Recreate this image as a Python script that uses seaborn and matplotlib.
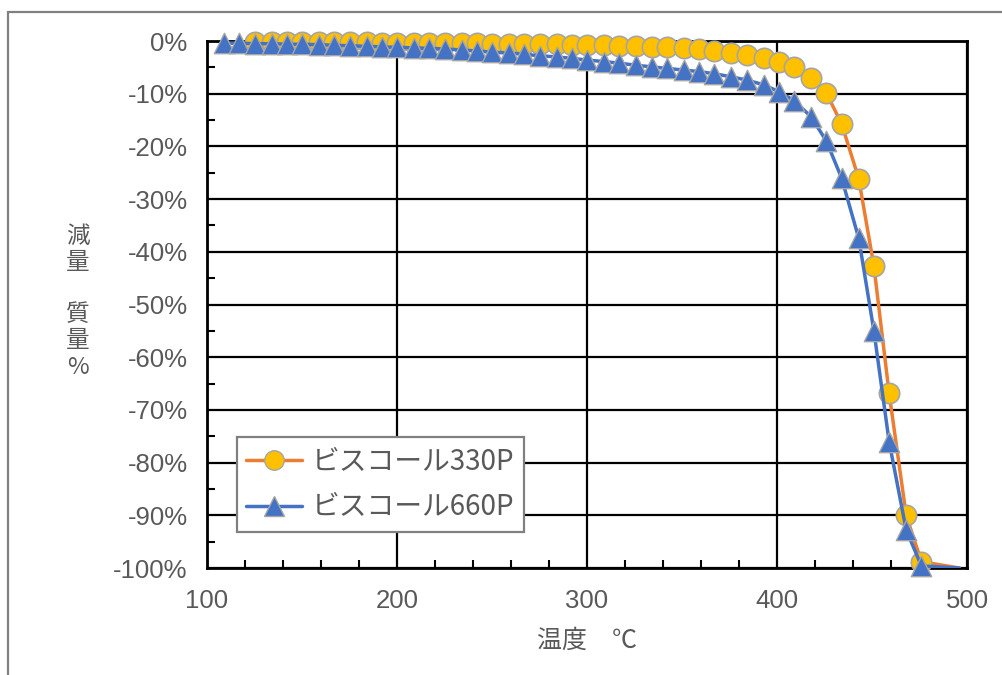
import matplotlib
matplotlib.use("Agg")
import matplotlib.pyplot as plt
import seaborn as sns
import pandas as pd
from matplotlib.lines import Line2D
from matplotlib.patches import Rectangle
from matplotlib.ticker import MultipleLocator

# ---------------- data ----------------
temp_660 = [109, 117, 125, 134, 142, 150, 159, 167, 175, 184, 192, 200,
            209, 217, 225, 234, 242, 250, 259, 267, 275, 284, 292, 300,
            309, 317, 326, 334, 342, 351, 359, 367, 376, 384, 393, 401,
            409, 418, 426, 434, 443, 451, 459, 468, 476]
loss_660 = [-0.4, -0.4, -0.5, -0.5, -0.6, -0.6, -0.7, -0.8, -0.9, -1.0, -1.1, -1.2,
            -1.3, -1.4, -1.5, -1.7, -1.9, -2.1, -2.3, -2.5, -2.8, -3.0, -3.3, -3.6,
            -3.9, -4.2, -4.6, -4.9, -5.2, -5.5, -5.8, -6.2, -6.8, -7.4, -8.3, -9.6,
            -11.3, -14.4, -19.0, -26.0, -37.4, -55.0, -76.0, -92.8, -99.6]

temp_330 = [125, 134, 142, 150, 159, 167, 175, 184, 192, 200,
            209, 217, 225, 234, 242, 250, 259, 267, 275, 284, 292, 300,
            309, 317, 326, 334, 342, 351, 359, 367, 376, 384, 393, 401,
            409, 418, 426, 434, 443, 451, 459, 468, 476]
loss_330 = [-0.1, -0.1, -0.1, -0.1, -0.2, -0.2, -0.2, -0.2, -0.3, -0.3,
            -0.3, -0.3, -0.4, -0.4, -0.4, -0.5, -0.5, -0.5, -0.6, -0.6, -0.7, -0.8,
            -0.8, -0.9, -1.0, -1.1, -1.1, -1.3, -1.5, -1.8, -2.2, -2.6, -3.2, -3.9,
            -4.9, -7.0, -9.9, -15.7, -26.1, -42.7, -66.8, -90.0, -98.8]

# line end (no marker)
tail_temp = [496]
tail_loss = [-100]

series_names = ["ビスコール330P", "ビスコール660P"]
x_ticks = [100, 200, 300, 400, 500]
y_ticks = [0, -10, -20, -30, -40, -50, -60, -70, -80, -90, -100]
y_tick_labels = [f"{v}%" for v in y_ticks]
x_label = "温度　℃"
y_label = "減\n量\n\n質\n量\n%"

# ---------------- style ----------------
sns.set_theme(style="white")
plt.rcParams["font.family"] = ["Liberation Sans", "Noto Sans CJK JP", "DejaVu Sans"]
cjk = ["Noto Sans CJK JP", "DejaVu Sans"]
txt_color = "#595959"

c_orange = "#ED7D31"
c_yellow = "#FFC000"
c_blue = "#4472C4"
c_edge = "#A5A5A5"

fig = plt.figure(figsize=(10.03, 6.75), dpi=100)
ax = fig.add_axes([0.2064, 0.1585, 0.7577, 0.7807])

df330 = pd.DataFrame({"temp": temp_330 + tail_temp, "loss": loss_330 + tail_loss})
df660 = pd.DataFrame({"temp": temp_660 + tail_temp, "loss": loss_660 + tail_loss})

sns.lineplot(data=df330, x="temp", y="loss", color=c_orange, lw=2.5,
             estimator=None, sort=False, ax=ax, zorder=3)
sns.scatterplot(x=temp_330, y=loss_330, marker="o", s=215, color=c_yellow,
                edgecolor=c_edge, linewidth=1.2, ax=ax, zorder=4, clip_on=False)
sns.lineplot(data=df660, x="temp", y="loss", color=c_blue, lw=2.5,
             estimator=None, sort=False, ax=ax, zorder=5)
sns.scatterplot(x=temp_660, y=loss_660, marker="^", s=215, color=c_blue,
                edgecolor=c_edge, linewidth=1.0, ax=ax, zorder=6, clip_on=False)

ax.set_xlim(100, 500)
ax.set_ylim(-100, 0)
ax.set_xticks(x_ticks)
ax.set_yticks(y_ticks)
ax.set_yticklabels(y_tick_labels)
ax.xaxis.set_minor_locator(MultipleLocator(20))
ax.yaxis.set_minor_locator(MultipleLocator(5))
ax.set_axisbelow(True)
ax.grid(True, which="major", color="black", lw=1.6)
ax.grid(False, which="minor")
ax.tick_params(which="major", length=0, labelsize=18.5, labelcolor=txt_color)
ax.tick_params(axis="x", which="major", pad=15)
ax.tick_params(axis="y", which="major", pad=14)
ax.tick_params(which="minor", direction="in", length=6, width=1.5, color="black",
               bottom=True, left=True, top=False, right=False)
for s in ax.spines.values():
    s.set_color("black")
    s.set_linewidth(2)

ax.set_xlabel(x_label, fontsize=18, color=txt_color, family=cjk, labelpad=11)
ax.set_ylabel("")
ax.text(-0.17, 0.505, y_label, transform=ax.transAxes, ha="center", va="center",
        fontsize=17, color=txt_color, family=cjk, linespacing=1.17)

handles = [
    Line2D([], [], color=c_orange, lw=2.5, marker="o", markersize=14,
           markerfacecolor=c_yellow, markeredgecolor=c_edge),
    Line2D([], [], color=c_blue, lw=2.5, marker="^", markersize=14,
           markerfacecolor=c_blue, markeredgecolor=c_edge),
]
leg = ax.legend(handles, series_names, loc="lower left", bbox_to_anchor=(0.039, 0.068),
                borderaxespad=0, frameon=True, fancybox=False, edgecolor="#808080",
                framealpha=1, prop={"family": cjk, "size": 20}, labelcolor=txt_color,
                handlelength=2.0, handletextpad=0.35, borderpad=0.35, labelspacing=0.55)
leg.get_frame().set_linewidth(1.6)

fig.patches.append(Rectangle((8 / 1003, -0.1), 1.2, 1.1 - 12 / 675, transform=fig.transFigure,
                             fill=False, edgecolor="#808080", lw=1.6, zorder=0))

fig.savefig("out.png", dpi=100)
